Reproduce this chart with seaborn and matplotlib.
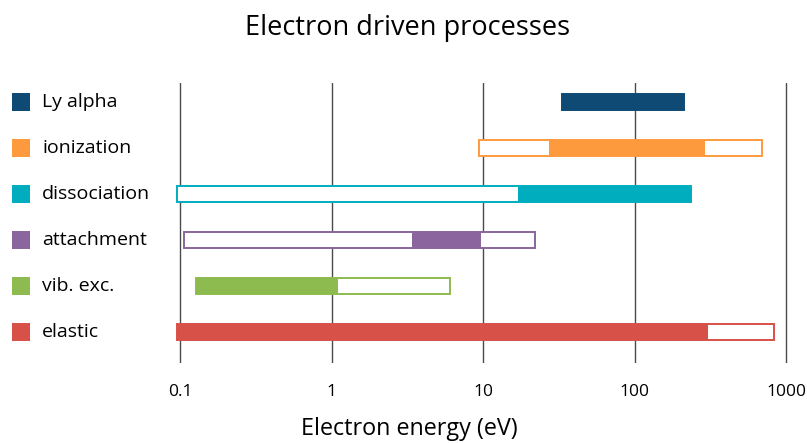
import numpy as np
import pandas as pd
import matplotlib
matplotlib.use("Agg")
import matplotlib.pyplot as plt
import matplotlib.transforms as mtransforms
import seaborn as sns

categories = ["Ly alpha", "ionization", "dissociation", "attachment", "vib. exc.", "elastic"]
range_lo = [33, 9.3, 0.095, 0.105, 0.126, 0.095]
range_hi = [212, 690, 234, 22, 6.0, 830]
main_lo = [33, 27, 17, 3.4, 0.126, 0.095]
main_hi = [212, 292, 234, 9.7, 1.1, 303]
colors = ["#0e4a73", "#fd9a3d", "#00adbf", "#8a659e", "#8dbb50", "#d85148"]
tick_values = [0.1, 1, 10, 100, 1000]
tick_labels = ["0.1", "1", "10", "100", "1000"]

df = pd.DataFrame({"category": categories, "range_lo": range_lo, "range_hi": range_hi,
                   "main_lo": main_lo, "main_hi": main_hi, "color": colors})

sns.set_theme(style="white")
plt.rcParams["font.family"] = ["Open Sans", "DejaVu Sans"]

W, H = 807, 443
fig = plt.figure(figsize=(W / 100, H / 100), dpi=100)
ax = fig.add_axes([165 / W, (H - 363) / H, (800 - 165) / W, (363 - 83) / H])

ax.set_xscale("log")
ax.set_xlim(0.0792, 1231)
ax.set_ylim(5.674, -0.413)

ypos = np.arange(len(df))
bar_h = 0.33
# outline (full range)
ax.barh(ypos, df["range_hi"] - df["range_lo"], left=df["range_lo"], height=bar_h,
        facecolor="white", edgecolor=df["color"], linewidth=1.4, zorder=3)
# filled (main range)
ax.barh(ypos, df["main_hi"] - df["main_lo"], left=df["main_lo"], height=bar_h + 0.02,
        color=df["color"], linewidth=0, zorder=4)

ax.set_xticks(tick_values)
ax.set_xticklabels(tick_labels)
ax.xaxis.set_minor_locator(matplotlib.ticker.NullLocator())
ax.tick_params(axis="x", length=0, pad=15, labelsize=12.5, colors="#000000")
ax.set_yticks([])
for v in tick_values:
    ax.axvline(v, color="#4a4a4a", linewidth=1.0, zorder=1)
sns.despine(ax=ax, left=True, bottom=True, right=True, top=True)

# legend-like labels at category rows
trans = mtransforms.blended_transform_factory(fig.transFigure, ax.transData)
for i, row in df.iterrows():
    ax.scatter([20.5 / W], [i], transform=trans, marker="s", s=150, color=row["color"],
               clip_on=False, zorder=5, linewidth=0)
    ax.text(42 / W, i, row["category"], transform=trans, ha="left", va="center",
            fontsize=14, color="#000000")

fig.text(408 / W, 1 - 28 / H, "Electron driven processes", ha="center", va="center",
         fontsize=19.5, color="#000000")
fig.text(409 / W, 1 - 429 / H, "Electron energy (eV)", ha="center", va="center",
         fontsize=16.8, color="#000000")

fig.savefig("out.png", dpi=100)
